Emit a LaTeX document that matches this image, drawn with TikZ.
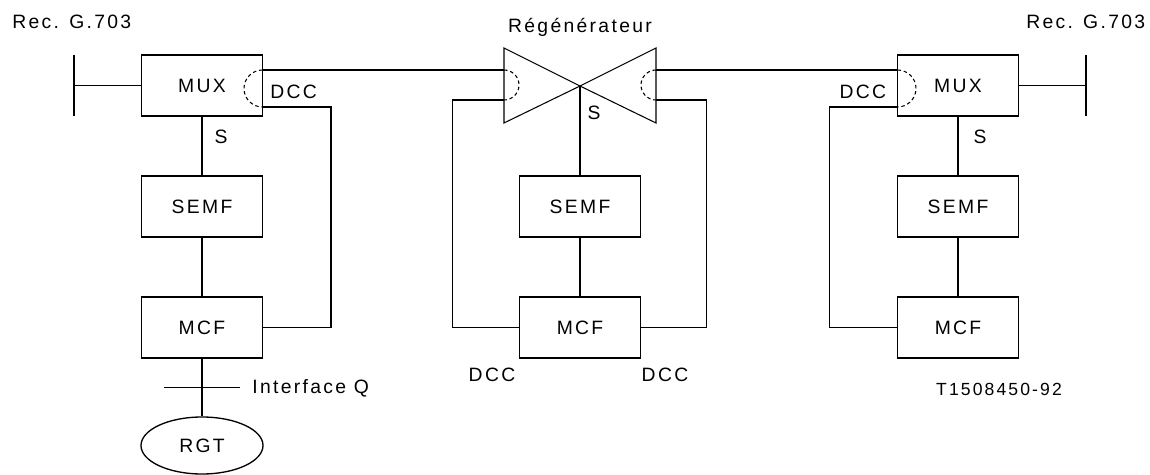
\documentclass[tikz,border=0pt]{standalone}
\usepackage{fontspec}
\setmainfont{Liberation Sans}[LetterSpace=12]
\usepackage{tikz}
\usetikzlibrary{
    positioning,
    shapes.geometric
}

\begin{document}
\begin{tikzpicture}[
        box/.style={
            rectangle,
            draw,
            line width=0.6pt,
            minimum width=2.42cm,
            minimum height=1.22cm,
            inner sep=0pt,
            font=\fontsize{11}{13}\selectfont
        },
        blob/.style={
            ellipse,
            draw,
            line width=0.75pt,
            minimum width=2.44cm,
            minimum height=1.14cm,
            inner sep=0pt,
            font=\fontsize{11}{13}\selectfont
        },
        txt/.style={
            inner sep=0pt,
            font=\fontsize{11}{13}\selectfont
        },
        wire/.style={line width=0.6pt},
        trunk/.style={line width=1.1pt},
        port/.style={line width=0.6pt, dash pattern=on 2pt off 1.6pt}
    ]
        \useasboundingbox (0,0) rectangle (23,-9.5);

        % left terminal
        \node[box] (muxL) at (4.04,-1.71) {MUX};
        \node[box] (semfL) at (4.04,-4.13) {SEMF};
        \node[box] (mcfL) at (4.04,-6.55) {MCF};
        \node[blob] (rgt) at (4.04,-8.91) {RGT};

        % regenerator
        \coordinate (apex) at (11.6,-1.72);
        \coordinate (regTL) at (10.08,-0.96);
        \coordinate (regBL) at (10.08,-2.46);
        \coordinate (regTR) at (13.12,-0.96);
        \coordinate (regBR) at (13.12,-2.46);
        \node[box] (semfM) at (11.6,-4.13) {SEMF};
        \node[box] (mcfM) at (11.6,-6.55) {MCF};
        \draw[wire] (regTL) -- (apex) -- (regBL) -- cycle;
        \draw[wire] (regTR) -- (apex) -- (regBR) -- cycle;

        % right terminal
        \node[box] (muxR) at (19.16,-1.71) {MUX};
        \node[box] (semfR) at (19.16,-4.13) {SEMF};
        \node[box] (mcfR) at (19.16,-6.55) {MCF};

        % DCC ports and corners
        \coordinate (dccLt) at (5.25,-1.40);
        \coordinate (dccLb) at (5.25,-2.14);
        \coordinate (regLt) at (10.08,-1.40);
        \coordinate (regLb) at (10.08,-2.00);
        \coordinate (regRt) at (13.12,-1.40);
        \coordinate (regRb) at (13.12,-2.00);
        \coordinate (dccRt) at (17.95,-1.40);
        \coordinate (dccRb) at (17.95,-2.14);
        \coordinate (turnL) at (6.62,-2.14);
        \coordinate (turnML) at (9.05,-2.00);
        \coordinate (turnMR) at (14.13,-2.00);
        \coordinate (turnR) at (16.59,-2.14);

        \draw[port] (dccLt) arc[start angle=90, end angle=270, radius=0.37];
        \draw[port] (dccRt) arc[start angle=90, end angle=-90, radius=0.37];
        \draw[port] (regLt) arc[start angle=90, end angle=-90, radius=0.30];
        \draw[port] (regRt) arc[start angle=90, end angle=270, radius=0.30];

        % line sections
        \draw[trunk] (dccLt) -- (regLt);
        \draw[trunk] (regRt) -- (dccRt);

        % G.703 interfaces
        \coordinate (g703L) at (1.48,-1.71);
        \coordinate (g703R) at (21.72,-1.71);
        \draw[trunk] (g703L) -- (muxL.west);
        \draw[trunk] (muxR.east) -- (g703R);
        \draw[trunk] ([yshift=0.61cm]g703L) -- ([yshift=-0.61cm]g703L);
        \draw[trunk] ([yshift=0.61cm]g703R) -- ([yshift=-0.61cm]g703R);

        % S and management chains
        \draw[trunk] (muxL) -- (semfL);
        \draw[trunk] (semfL) -- (mcfL);
        \draw[trunk] (mcfL) -- (rgt);
        \draw[trunk] (apex) -- (semfM);
        \draw[trunk] (semfM) -- (mcfM);
        \draw[trunk] (muxR) -- (semfR);
        \draw[trunk] (semfR) -- (mcfR);

        % DCC to MCF
        \draw[wire] (dccLb) -- (turnL) |- (mcfL.east);
        \draw[wire] (regLb) -- (turnML) |- (mcfM.west);
        \draw[wire] (regRb) -- (turnMR) |- (mcfM.east);
        \draw[wire] (dccRb) -- (turnR) |- (mcfR.west);

        % Q interface
        \coordinate (qL) at (3.28,-7.75);
        \coordinate (qR) at (4.79,-7.75);
        \draw[trunk] (qL) -- (qR);
        \node[txt, anchor=west] (ifq) at (5.04,-7.76) {Interface Q};

        % labels
        \node[txt, anchor=west] (recL) at (0.24,-0.44) {Rec. G.703};
        \node[txt, anchor=east] (recR) at (22.91,-0.44) {Rec. G.703};
        \node[txt] (regen) at (11.6,-0.54) {Régénérateur};
        \node[txt, anchor=west] (dccL) at (5.40,-1.83) {DCC};
        \node[txt, anchor=east] (dccR) at (17.73,-1.84) {DCC};
        \node[txt] (sL) at (4.42,-2.74) {S};
        \node[txt] (sM) at (11.88,-2.26) {S};
        \node[txt] (sR) at (19.60,-2.74) {S};
        \node[txt] (dccML) at (9.84,-7.50) {DCC};
        \node[txt] (dccMR) at (13.30,-7.50) {DCC};
        \node[txt, font=\fontsize{10}{12}\selectfont] (fig) at (19.98,-7.78) {T1508450-92};
    \end{tikzpicture}
\end{document}
